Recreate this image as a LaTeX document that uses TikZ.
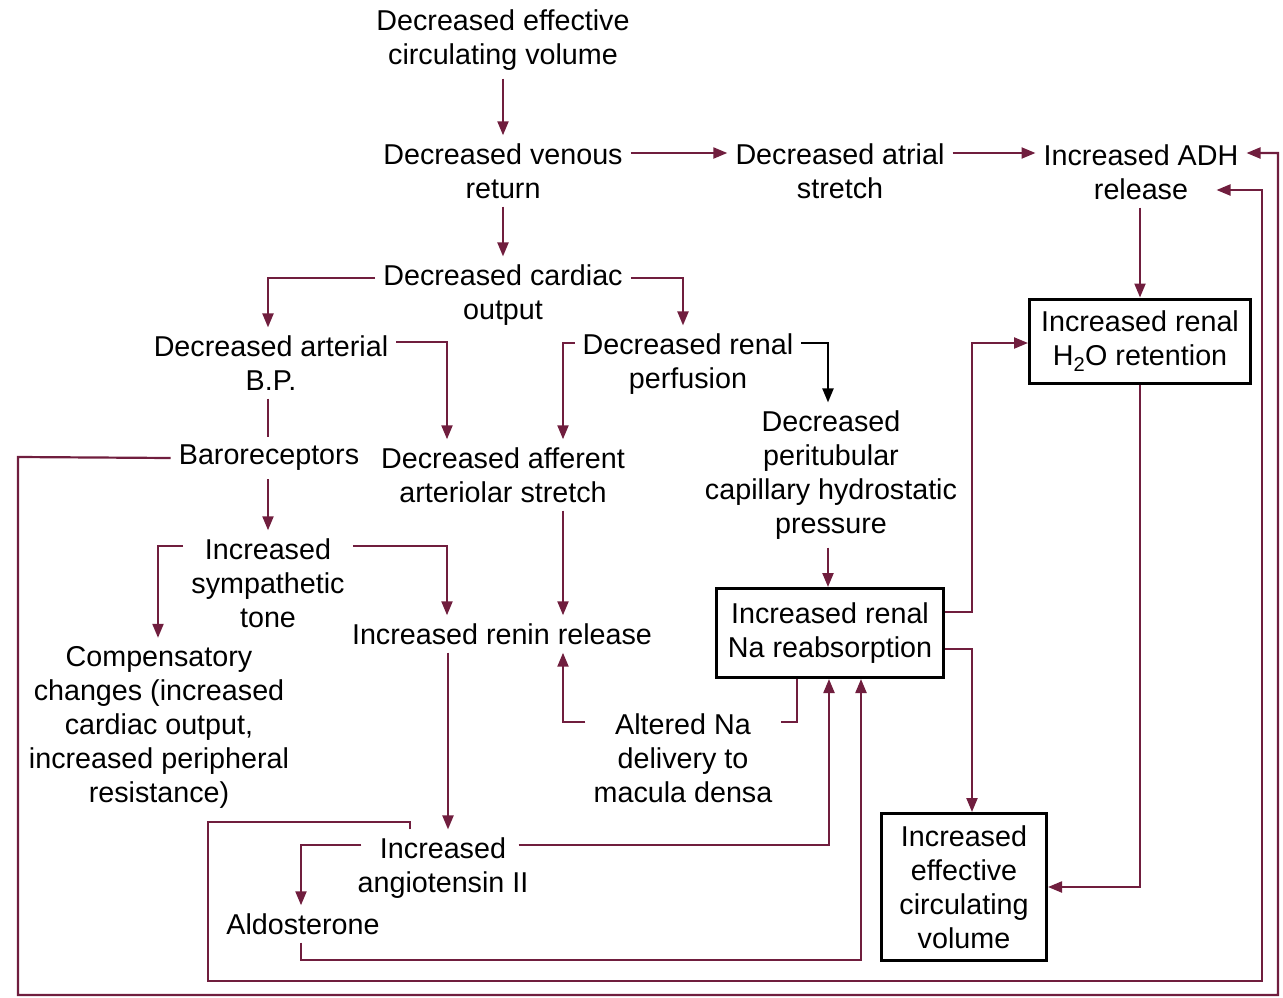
\documentclass[tikz,border=0pt]{standalone}
\usepackage{fontspec}
\setmainfont{Liberation Sans}
\usetikzlibrary{arrows.meta,calc}
\definecolor{conn}{RGB}{112,30,62}
\begin{document}
\begin{tikzpicture}[x=1bp,y=-1bp,
  every node/.style={font=\fontsize{28.7bp}{34bp}\selectfont},
  txt/.style={align=center,inner sep=8bp},
  box/.style={draw=black,line width=3bp,align=center,inner sep=0pt},
  ln/.style={draw=conn,line width=2.2bp},
  arr/.style={ln,-{Triangle[length=14bp,width=11bp]}},
  barr/.style={draw=black,line width=2.2bp,-{Triangle[length=14bp,width=11bp]}},
]
\useasboundingbox (0,0) rectangle (1283,998);

% nodes
\node[txt] (decv) at (503,40) {Decreased effective\\circulating volume};
\node[txt] (venous) at (503,171) {Decreased venous\\return};
\node[txt] (atrial) at (840,171) {Decreased atrial\\stretch};
\node[txt] (adh) at (1141,172) {Increased ADH\\release};
\node[box,minimum width=221bp,minimum height=84bp] (h2o) at (1140,341) {Increased renal\\H\textsubscript{2}O retention};
\node[txt] (cardiac) at (503,295) {Decreased cardiac\\output};
\node[txt] (art) at (271,363) {Decreased arterial\\B.P.};
\node[txt] (renalp) at (688,364) {Decreased renal\\perfusion};
\node[txt] (baro) at (269,458) {Baroreceptors};
\node[txt] (aff) at (503,475) {Decreased afferent\\arteriolar stretch};
\node[txt] (peri) at (831,475) {Decreased\\peritubular\\capillary hydrostatic\\pressure};
\node[txt] (symp) at (268,583) {Increased\\sympathetic\\tone};
\node[txt] (renin) at (502,634) {Increased renin release};
\node[box,minimum width=227bp,minimum height=89bp] (na) at (830,633) {Increased renal\\Na reabsorption};
\node[txt] (comp) at (159,727) {Compensatory\\changes (increased\\cardiac output,\\increased peripheral\\resistance)};
\node[txt] (alt) at (683,758) {Altered Na\\delivery to\\macula densa};
\node[txt] (ang) at (443,868) {Increased\\angiotensin II};
\node[txt] (ald) at (303,924) {Aldosterone};
\node[box,minimum width=165bp,minimum height=147bp] (ecv) at (964,887) {Increased\\effective\\circulating\\volume};

% connectors
\draw[arr] (decv) -- (venous);
\draw[arr] (venous.east |- 0,153) -- (atrial.west |- 0,153);
\draw[arr] (atrial.east |- 0,153) -- (adh.west |- 0,153);
\draw[arr] (venous) -- (cardiac);
\draw[arr] (cardiac.west |- 0,278) -| (art.north -| 268,0);
\draw[arr] (cardiac.east |- 0,278) -| (renalp.north -| 683,0);
\draw[arr] (art.east |- 0,342) -| (aff.north -| 447,0);
\draw[arr] (renalp.west |- 0,343) -| (aff.north -| 563,0);
\draw[barr] (renalp.east |- 0,343) -| (peri.north -| 828,0);
\draw[ln] (art.south -| 268,0) -- (baro.north -| 268,0);
\draw[arr] (baro.south -| 268,0) -- (symp.north -| 268,0);
\draw[arr] (aff.south -| 563,0) -- (renin.north -| 563,0);
\draw[arr] (symp.west |- 0,546) -| (comp.north -| 158,0);
\draw[arr] (symp.east |- 0,546) -| (renin.north -| 447,0);
\draw[arr] (peri.south -| 828,0) -- (na.north -| 828,0);
\draw[arr] (renin.south -| 448,0) -- (ang.north -| 448,0);
\draw[arr] ($(ang.west |- 0,845)+(12,0)$) -| (ald.north -| 301,0);
\draw[arr] ($(ang.east |- 0,845)+(-18,0)$) -| (na.south -| 829,0);
\draw[arr] (ang.north -| 410,0) -- (410,822) -- (208,822) -- (208,981) -- (1262,981) -- (1262,190) -- ($(adh.east |- 0,190)+(-30,0)$);
\draw[arr] (baro.west) -- (18,457) -- (18,995) -- (1278,995) -- (1278,153) -- (adh.east |- 0,153);
\draw[arr] (adh.south -| 1140,0) -- (h2o.north -| 1140,0);
\draw[arr] (na.east |- 0,612) -- (972,612) |- (h2o.west |- 0,343);
\draw[arr] (na.east |- 0,649) -| (ecv.north -| 972,0);
\draw[arr] (h2o.south) |- (ecv.east);
\draw[ln] (na.south -| 797,0) |- (alt.east |- 0,722);
\draw[arr] (alt.west |- 0,722) -| (renin.south -| 563,0);
\draw[arr] (ald.south -| 301,0) |- (861,960) -- (na.south -| 861,0);
\end{tikzpicture}
\end{document}
